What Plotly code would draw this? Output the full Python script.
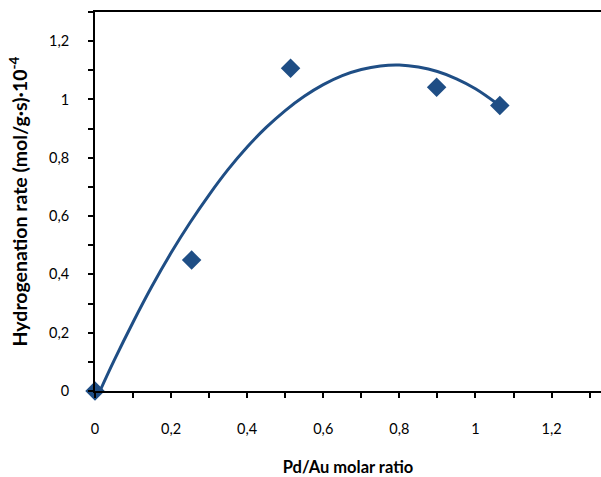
import plotly.graph_objects as go

# Measured data points
ratio = [0.0, 0.254, 0.514, 0.898, 1.064]
rate = [0.0, 0.449, 1.107, 1.042, 0.979]

# Trend curve
curve_x = [0.013, 0.05, 0.10, 0.15, 0.20, 0.25, 0.30, 0.35, 0.40, 0.45, 0.50, 0.55,
           0.60, 0.65, 0.70, 0.75, 0.80, 0.85, 0.90, 0.95, 1.00, 1.06]
curve_y = [0.0, 0.104, 0.236, 0.360, 0.474, 0.578, 0.673, 0.760, 0.837, 0.904, 0.962, 1.011,
           1.051, 1.082, 1.103, 1.115, 1.118, 1.111, 1.096, 1.071, 1.037, 0.983]

x_ticks = [0, 0.2, 0.4, 0.6, 0.8, 1, 1.2]
x_labels = ["0", "0,2", "0,4", "0,6", "0,8", "1", "1,2"]
y_ticks = [0, 0.2, 0.4, 0.6, 0.8, 1, 1.2]
y_labels = ["0", "0,2", "0,4", "0,6", "0,8", "1", "1,2"]

color = "#1F4E85"
font = "Lato, 'Open Sans', sans-serif"

fig = go.Figure()
fig.add_trace(go.Scatter(x=curve_x, y=curve_y, mode="lines", line=dict(color=color, width=3, shape="spline"),
                         showlegend=False, hoverinfo="skip"))
fig.add_trace(go.Scatter(x=ratio, y=rate, mode="markers",
                         marker=dict(symbol="diamond", size=15, color=color), showlegend=False, cliponaxis=False))

fig.update_layout(
    width=601, height=477,
    margin=dict(l=95, r=0, t=12, b=84),
    paper_bgcolor="white", plot_bgcolor="white",
    font=dict(family=font, size=14.5, color="black"),
    xaxis=dict(range=[0, 1.33], tickvals=x_ticks, ticktext=x_labels,
               showline=True, linecolor="black", linewidth=2, mirror=True,
               ticks="outside", ticklen=5, tickwidth=2, tickcolor="black",
               minor=dict(dtick=0.1, ticks="outside", ticklen=5, tickwidth=2, tickcolor="black"),
               showgrid=False, zeroline=False, ticklabelstandoff=19,
               title=dict(text="<b>Pd/Au molar ratio</b>", font=dict(size=16.5), standoff=28)),
    yaxis=dict(range=[0, 1.30], tickvals=y_ticks, ticktext=y_labels,
               showline=True, linecolor="black", linewidth=2,
               ticks="outside", ticklen=5, tickwidth=2, tickcolor="black",
               minor=dict(dtick=0.1, ticks="outside", ticklen=5, tickwidth=2, tickcolor="black"),
               showgrid=False, zeroline=False, ticklabelstandoff=16,
               title=dict(text="<b>Hydrogenation rate (mol/g·s)·10<sup>-4</sup></b>", font=dict(size=19.5), standoff=16)),
)

fig.write_html("out.html")
